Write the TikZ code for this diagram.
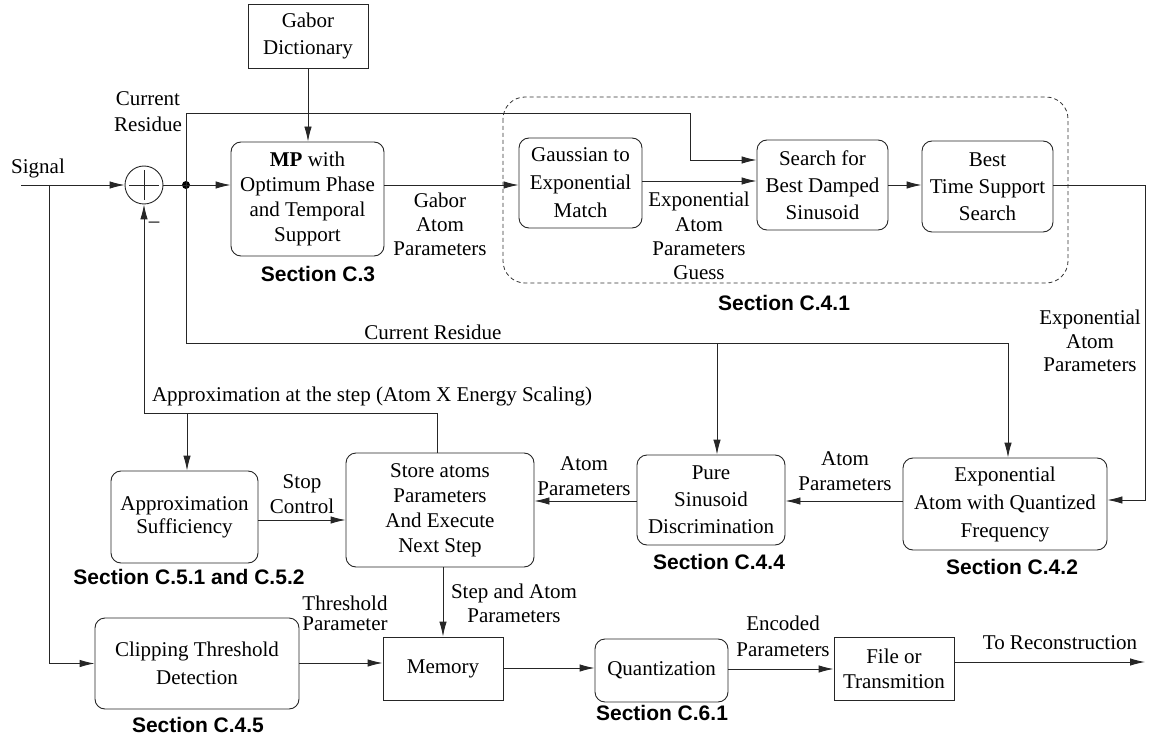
\documentclass[tikz,border=0pt]{standalone}
\usepackage{fontspec}
\setmainfont{Liberation Serif}
\setsansfont{Liberation Sans}
\usetikzlibrary{arrows.meta}
\begin{document}
\begin{tikzpicture}[x=1pt,y=-1pt,
  every node/.style={font=\fontsize{21}{26}\selectfont, inner sep=0pt, align=center},
  rbox/.style={draw=black!85, rounded corners=10pt, line width=0.9pt},
  sbox/.style={draw=black!85, line width=0.9pt},
  sec/.style={font=\sffamily\bfseries\fontsize{21}{24}\selectfont},
  conn/.style={line width=0.9pt, draw=black!85},
  arr/.style={conn, -{Latex[length=15pt,width=7.5pt]}},
]
\useasboundingbox (0,0) rectangle (1149,738);

% dashed group
\draw[black!80, line width=0.8pt, dash pattern=on 4pt off 3pt, rounded corners=22pt] (503,97) rectangle (1068,283);

% boxes
\node[sbox, minimum width=120pt, minimum height=64pt, font=\fontsize{21}{27}\selectfont] (gabor) at (308,36) {Gabor\\Dictionary};
\node[rbox, minimum width=153pt, minimum height=114pt, font=\fontsize{21}{25}\selectfont] (mp) at (307.5,199) {\textbf{MP} with\\Optimum Phase\\and Temporal\\Support};
\node[rbox, minimum width=123pt, minimum height=90pt, font=\fontsize{21}{28}\selectfont] (gauss) at (580.5,183) {Gaussian to\\Exponential\\Match};
\node[rbox, minimum width=131pt, minimum height=90pt, font=\fontsize{21}{27}\selectfont] (search) at (822.5,185) {Search for\\Best Damped\\Sinusoid};
\node[rbox, minimum width=131pt, minimum height=91pt, font=\fontsize{21}{27}\selectfont] (best) at (987.5,186.5) {Best\\Time Support\\Search};
\node[rbox, minimum width=204pt, minimum height=92pt, font=\fontsize{21}{28}\selectfont] (expatom) at (1005,504) {Exponential\\Atom with Quantized\\Frequency};
\node[rbox, minimum width=148pt, minimum height=90pt, font=\fontsize{21}{27}\selectfont] (pure) at (711,500) {Pure\\Sinusoid\\Discrimination};
\node[rbox, minimum width=188pt, minimum height=114pt, font=\fontsize{21}{25}\selectfont] (store) at (440,510) {Store atoms\\Parameters\\And Execute\\Next Step};
\node[rbox, minimum width=147pt, minimum height=92pt, font=\fontsize{21}{23}\selectfont] (approx) at (184.5,517) {Approximation\\Sufficiency};
\node[rbox, minimum width=204pt, minimum height=91pt, font=\fontsize{21}{28}\selectfont] (clip) at (197,663.5) {Clipping Threshold\\Detection};
\node[sbox, minimum width=120pt, minimum height=63pt] (memory) at (443,668.5) {Memory};
\node[rbox, minimum width=133pt, minimum height=63pt] (quant) at (661.5,670.5) {Quantization};
\node[sbox, minimum width=120pt, minimum height=63pt, font=\fontsize{21}{25}\selectfont] (file) at (894,668.5) {File or\\Transmition};

% summing junction
\node[circle, draw=black!85, line width=0.9pt, minimum size=38pt] (sum) at (144,185) {};
\draw[conn] ([xshift=-15pt]sum.center) -- ([xshift=15pt]sum.center);
\draw[conn] ([yshift=-15pt]sum.center) -- ([yshift=15pt]sum.center);
\coordinate (dot) at (186,185);
\fill[black] (dot) circle (4pt);

% labels
\node (lsignal) at (38,168) {Signal};
\node (lcr1) at (148,112) {Current\\Residue};
\node (lminus) at (154,225) {\textendash};
\node (lgabor) at (440,224) [font=\fontsize{21}{24}\selectfont] {Gabor\\Atom\\Parameters};
\node (lexpg) at (699,236) [font=\fontsize{21}{24.3}\selectfont] {Exponential\\Atom\\Parameters\\Guess};
\node (lexpr) at (1090,341) [font=\fontsize{21}{23.5}\selectfont] {Exponential\\Atom\\Parameters};
\node (lcr2) at (433,332) {Current Residue};
\node (lapp) at (372,396) {Approximation at the step (Atom X Energy Scaling)};
\node (lstop) at (302,494) [font=\fontsize{21}{25}\selectfont] {Stop\\Control};
\node (lap1) at (584,476) [font=\fontsize{21}{25}\selectfont] {Atom\\Parameters};
\node (lap2) at (845,471) [font=\fontsize{21}{25}\selectfont] {Atom\\Parameters};
\node (lthr) at (345,613) [font=\fontsize{21}{20}\selectfont] {Threshold\\Parameter};
\node (lstep) at (514,603) [font=\fontsize{21}{24}\selectfont] {Step and Atom\\Parameters};
\node (lenc) at (783,636) [font=\fontsize{21}{26}\selectfont] {Encoded\\Parameters};
\node (lrec) at (1060,643) {To Reconstruction};

\node[sec] (s3) at (318,274) {Section C.3};
\node[sec] (s41) at (784,303) {Section C.4.1};
\node[sec] (s44) at (719,562) {Section C.4.4};
\node[sec] (s42) at (1012,567) {Section C.4.2};
\node[sec] (s5) at (189,577) {Section C.5.1 and C.5.2};
\node[sec] (s45) at (198,725) {Section C.4.5};
\node[sec] (s61) at (662,713) {Section C.6.1};

% connectors
\coordinate (sigin) at (21,185);
\coordinate (br) at (49,185);
\draw[arr] (sigin) -- (sum.west);
\draw[arr] (br) |- (clip.west);
\draw[conn] (sum.east) -- (dot);
\draw[arr] (dot) -- (mp.west |- dot);
\draw[arr] (gabor.south) -- (mp.north -| gabor.south);

\coordinate (crtop) at (186,113);
\coordinate (crbend) at (690,113);
\coordinate (crin) at (690,160);
\draw[arr] (dot) -- (crtop) -- (crbend) -- (crin) -- (search.west |- crin);

\coordinate (crlow) at (186,343);
\coordinate (crR) at (1008,343);
\coordinate (crM) at (717,343);
\draw[arr] (dot) -- (crlow) -- (crR) -- (crR |- expatom.north);
\draw[arr] (crM) -- (crM |- pure.north);

\draw[arr] (mp.east |- dot) -- (gauss.west |- dot);
\coordinate (gs) at (642,181);
\draw[arr] (gauss.east |- gs) -- (search.west |- gs);
\draw[arr] (search.east |- dot) -- (best.west |- dot);

\coordinate (rt) at (1145,185);
\coordinate (rb) at (1145,500);
\draw[arr] (best.east |- rt) -- (rt) -- (rb) -- (expatom.east |- rb);

\coordinate (mid) at (0,501);
\draw[arr] (expatom.west |- mid) -- (pure.east |- mid);
\draw[arr] (pure.west |- mid) -- (store.east |- mid);

\coordinate (ap1) at (437,413);
\coordinate (ap2) at (144,413);
\coordinate (ap3) at (187,413);
\draw[arr] (store.north -| ap1) -- (ap1) -- (ap2) -- (sum.south);
\draw[arr] (ap3) -- (ap3 |- approx.north);

\coordinate (sc) at (0,520);
\draw[arr] (approx.east |- sc) -- (store.west |- sc);

\coordinate (sm) at (443,0);
\draw[arr] (store.south -| sm) -- (memory.north -| sm);

\coordinate (cm) at (0,663);
\draw[arr] (clip.east |- cm) -- (memory.west |- cm);
\coordinate (mq) at (0,668);
\draw[arr] (memory.east |- mq) -- (quant.west |- mq);
\coordinate (qf) at (0,669);
\draw[arr] (quant.east |- qf) -- (file.west |- qf);
\coordinate (out) at (1145,662);
\draw[arr] (file.east |- out) -- (out);
\end{tikzpicture}
\end{document}
